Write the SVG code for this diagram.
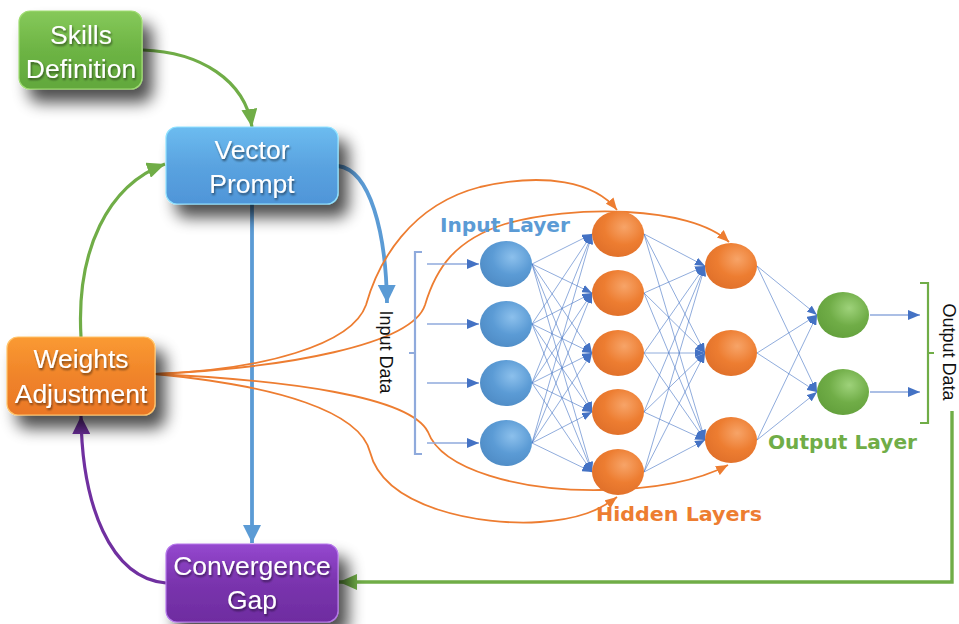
<svg xmlns="http://www.w3.org/2000/svg" width="959" height="624" viewBox="0 0 959 624">
  <defs>
    <style>
      .box-text { font-family: "Liberation Sans", Arial, sans-serif; font-size: 26.5px; fill: #ffffff; text-anchor: middle; }
      .layer-label { font-family: "DejaVu Sans", "Liberation Sans", sans-serif; font-size: 20px; font-weight: bold; }
      .data-label { font-family: "Liberation Sans", Arial, sans-serif; font-size: 18px; fill: #111111; text-anchor: middle; }
      .syn { stroke: #4472c4; stroke-width: 0.7; stroke-opacity: 0.85; fill: none; marker-end: url(#synArrow); }
      .feed { stroke: #ed7d31; stroke-width: 1.8; fill: none; marker-end: url(#orangeArrow); }
      .bracket-in { stroke: #8faadc; stroke-width: 2.2; fill: none; }
      .bracket-out { stroke: #70ad47; stroke-width: 2.2; fill: none; }
      .io-line { stroke: #8faadc; stroke-width: 1.3; fill: none; marker-end: url(#synArrowBig); }
    </style>

    <filter id="boxShadow" x="-30%" y="-30%" width="180%" height="200%">
      <feGaussianBlur in="SourceAlpha" stdDeviation="8"/>
      <feOffset dx="10" dy="13" result="blur"/>
      <feComponentTransfer><feFuncA type="linear" slope="0.7"/></feComponentTransfer>
      <feMerge><feMergeNode/><feMergeNode in="SourceGraphic"/></feMerge>
    </filter>
    <filter id="textShadow" x="-10%" y="-20%" width="120%" height="150%">
      <feGaussianBlur in="SourceAlpha" stdDeviation="1"/>
      <feOffset dx="1" dy="1.5"/>
      <feComponentTransfer><feFuncA type="linear" slope="0.5"/></feComponentTransfer>
      <feMerge><feMergeNode/><feMergeNode in="SourceGraphic"/></feMerge>
    </filter>

    <linearGradient id="gGreen" x1="0" y1="0" x2="0" y2="1">
      <stop offset="0" stop-color="#86c95a"/>
      <stop offset="0.5" stop-color="#6db444"/>
      <stop offset="1" stop-color="#62a83c"/>
    </linearGradient>
    <linearGradient id="gBlue" x1="0" y1="0" x2="0" y2="1">
      <stop offset="0" stop-color="#6cbcf0"/>
      <stop offset="0.5" stop-color="#5aa3e0"/>
      <stop offset="1" stop-color="#4f95d8"/>
    </linearGradient>
    <linearGradient id="gOrange" x1="0" y1="0" x2="0" y2="1">
      <stop offset="0" stop-color="#fa9a32"/>
      <stop offset="0.5" stop-color="#f0842a"/>
      <stop offset="1" stop-color="#ea7726"/>
    </linearGradient>
    <linearGradient id="gPurple" x1="0" y1="0" x2="0" y2="1">
      <stop offset="0" stop-color="#9548cf"/>
      <stop offset="0.5" stop-color="#7a34ae"/>
      <stop offset="1" stop-color="#6e2ca0"/>
    </linearGradient>

    <radialGradient id="sBlue" cx="0.62" cy="0.35" r="0.7">
      <stop offset="0" stop-color="#8cc0ec"/>
      <stop offset="0.55" stop-color="#5b9bd5"/>
      <stop offset="1" stop-color="#4f8cc6"/>
    </radialGradient>
    <radialGradient id="sOrange" cx="0.62" cy="0.35" r="0.7">
      <stop offset="0" stop-color="#f7a468"/>
      <stop offset="0.55" stop-color="#ed7d31"/>
      <stop offset="1" stop-color="#e0702a"/>
    </radialGradient>
    <radialGradient id="sGreen" cx="0.62" cy="0.35" r="0.7">
      <stop offset="0" stop-color="#9ed27a"/>
      <stop offset="0.55" stop-color="#70ad47"/>
      <stop offset="1" stop-color="#63a03c"/>
    </radialGradient>

    <marker id="synArrow" viewBox="0 0 10 8" refX="10" refY="4" markerWidth="10" markerHeight="8" markerUnits="userSpaceOnUse" orient="auto">
      <path d="M0,0 L10,4 L0,8 z" fill="#4472c4"/>
    </marker>
    <marker id="synArrowBig" viewBox="0 0 12 10" refX="12" refY="5" markerWidth="12" markerHeight="10" markerUnits="userSpaceOnUse" orient="auto">
      <path d="M0,0 L12,5 L0,10 z" fill="#4472c4"/>
    </marker>
    <marker id="orangeArrow" viewBox="0 0 12 10" refX="12" refY="5" markerWidth="12" markerHeight="10" markerUnits="userSpaceOnUse" orient="auto">
      <path d="M0,0 L12,5 L0,10 z" fill="#ed7d31"/>
    </marker>
    <marker id="greenArrow" viewBox="0 0 18 16" refX="18" refY="8" markerWidth="18" markerHeight="16" markerUnits="userSpaceOnUse" orient="auto">
      <path d="M0,0 L18,8 L0,16 z" fill="#70ad47"/>
    </marker>
    <marker id="blueArrow" viewBox="0 0 18 18" refX="18" refY="9" markerWidth="18" markerHeight="18" markerUnits="userSpaceOnUse" orient="auto">
      <path d="M0,0 L18,9 L0,18 z" fill="#5b9bd5"/>
    </marker>
    <marker id="purpleArrow" viewBox="0 0 18 18" refX="18" refY="9" markerWidth="18" markerHeight="18" markerUnits="userSpaceOnUse" orient="auto">
      <path d="M0,0 L18,9 L0,18 z" fill="#7030a0"/>
    </marker>
  </defs>

  <rect width="959" height="624" fill="#ffffff"/>

  <!-- connectors -->
  <g id="connectors">
    <!-- process loop -->
    <path d="M143,50 C200,52 245,80 252,127" stroke="#70ad47" stroke-width="3.2" fill="none" marker-end="url(#greenArrow)"/>
    <path d="M81,337 C76,250 108,185 165,164" stroke="#70ad47" stroke-width="3.2" fill="none" marker-end="url(#greenArrow)"/>
    <path d="M166,583 C110,578 82,505 81,416" stroke="#7030a0" stroke-width="3.2" fill="none" marker-end="url(#purpleArrow)"/>
    <path d="M252,204 L252,543" stroke="#5b9bd5" stroke-width="3.8" fill="none" marker-end="url(#blueArrow)"/>
    <path d="M338,166 C370,170 386,232 387,303" stroke="#5b9bd5" stroke-width="3.8" fill="none" marker-end="url(#blueArrow)"/>
    <path d="M952,411 L952,582 L339,582" stroke="#70ad47" stroke-width="3.4" fill="none" marker-end="url(#greenArrow)"/>

    <!-- weight updates fed into the network -->
    <path class="feed" d="M155,374 C262,370 352,345 366,305 C378,262 410,205 480,187 C545,172 595,182 617,210"/>
    <path class="feed" d="M155,374 C285,368 412,345 425,305 C436,268 455,240 505,224 C570,205 690,205 729,242"/>
    <path class="feed" d="M155,374 C285,380 410,396 428,432 C442,470 520,491 600,490 C660,489 700,480 728,465"/>
    <path class="feed" d="M155,374 C280,386 360,412 370,452 C384,508 480,526 540,522 C580,519 600,510 617,497"/>

    <!-- input / output feeds -->
    <path class="io-line" d="M427,264 L479,264"/>
    <path class="io-line" d="M427,324 L479,324"/>
    <path class="io-line" d="M427,383 L479,383"/>
    <path class="io-line" d="M427,443 L479,443"/>
    <path class="io-line" d="M870,315 L920,315"/>
    <path class="io-line" d="M870,392 L920,392"/>

    <!-- input layer to hidden layer 1 -->
    <line class="syn" x1="532" y1="264" x2="592" y2="234"/>
    <line class="syn" x1="532" y1="264" x2="592" y2="293"/>
    <line class="syn" x1="532" y1="264" x2="592" y2="353"/>
    <line class="syn" x1="532" y1="264" x2="592" y2="412"/>
    <line class="syn" x1="532" y1="264" x2="592" y2="472"/>
    <line class="syn" x1="532" y1="324" x2="592" y2="234"/>
    <line class="syn" x1="532" y1="324" x2="592" y2="293"/>
    <line class="syn" x1="532" y1="324" x2="592" y2="353"/>
    <line class="syn" x1="532" y1="324" x2="592" y2="412"/>
    <line class="syn" x1="532" y1="324" x2="592" y2="472"/>
    <line class="syn" x1="532" y1="383" x2="592" y2="234"/>
    <line class="syn" x1="532" y1="383" x2="592" y2="293"/>
    <line class="syn" x1="532" y1="383" x2="592" y2="353"/>
    <line class="syn" x1="532" y1="383" x2="592" y2="412"/>
    <line class="syn" x1="532" y1="383" x2="592" y2="472"/>
    <line class="syn" x1="532" y1="443" x2="592" y2="234"/>
    <line class="syn" x1="532" y1="443" x2="592" y2="293"/>
    <line class="syn" x1="532" y1="443" x2="592" y2="353"/>
    <line class="syn" x1="532" y1="443" x2="592" y2="412"/>
    <line class="syn" x1="532" y1="443" x2="592" y2="472"/>

    <!-- hidden layer 1 to hidden layer 2 -->
    <line class="syn" x1="644" y1="234" x2="705" y2="266"/>
    <line class="syn" x1="644" y1="234" x2="705" y2="353"/>
    <line class="syn" x1="644" y1="234" x2="705" y2="440"/>
    <line class="syn" x1="644" y1="293" x2="705" y2="266"/>
    <line class="syn" x1="644" y1="293" x2="705" y2="353"/>
    <line class="syn" x1="644" y1="293" x2="705" y2="440"/>
    <line class="syn" x1="644" y1="353" x2="705" y2="266"/>
    <line class="syn" x1="644" y1="353" x2="705" y2="353"/>
    <line class="syn" x1="644" y1="353" x2="705" y2="440"/>
    <line class="syn" x1="644" y1="412" x2="705" y2="266"/>
    <line class="syn" x1="644" y1="412" x2="705" y2="353"/>
    <line class="syn" x1="644" y1="412" x2="705" y2="440"/>
    <line class="syn" x1="644" y1="472" x2="705" y2="266"/>
    <line class="syn" x1="644" y1="472" x2="705" y2="353"/>
    <line class="syn" x1="644" y1="472" x2="705" y2="440"/>

    <!-- hidden layer 2 to output layer -->
    <line class="syn" x1="757" y1="266" x2="817" y2="315"/>
    <line class="syn" x1="757" y1="266" x2="817" y2="392"/>
    <line class="syn" x1="757" y1="353" x2="817" y2="315"/>
    <line class="syn" x1="757" y1="353" x2="817" y2="392"/>
    <line class="syn" x1="757" y1="440" x2="817" y2="315"/>
    <line class="syn" x1="757" y1="440" x2="817" y2="392"/>

    <!-- brackets -->
    <path class="bracket-in" d="M422,252 L415,252 L415,454 L422,454 M415,353 L409,353"/>
    <path class="bracket-out" d="M920,283 L928,283 L928,423 L920,423 M928,353 L934,353"/>
  </g>

  <!-- process boxes -->
  <g id="skills-definition" filter="url(#boxShadow)">
    <rect x="19" y="11" width="123" height="78" rx="11" fill="url(#gGreen)" stroke="#9fdc72" stroke-width="1.2"/>
    <g filter="url(#textShadow)">
      <text class="box-text" x="81" y="44">Skills</text>
      <text class="box-text" x="81" y="78">Definition</text>
    </g>
  </g>
  <g id="vector-prompt" filter="url(#boxShadow)">
    <rect x="166" y="127" width="172" height="77" rx="11" fill="url(#gBlue)" stroke="#8fe2ff" stroke-width="1.2"/>
    <g filter="url(#textShadow)">
      <text class="box-text" x="252" y="159">Vector</text>
      <text class="box-text" x="252" y="193">Prompt</text>
    </g>
  </g>
  <g id="weights-adjustment" filter="url(#boxShadow)">
    <rect x="7" y="337" width="148" height="78" rx="11" fill="url(#gOrange)" stroke="#ffc46a" stroke-width="1.2"/>
    <g filter="url(#textShadow)">
      <text class="box-text" x="81" y="368">Weights</text>
      <text class="box-text" x="81" y="403">Adjustment</text>
    </g>
  </g>
  <g id="convergence-gap" filter="url(#boxShadow)">
    <rect x="166" y="544" width="172" height="78" rx="11" fill="url(#gPurple)" stroke="#b577ea" stroke-width="1.2"/>
    <g filter="url(#textShadow)">
      <text class="box-text" x="252" y="575">Convergence</text>
      <text class="box-text" x="252" y="609">Gap</text>
    </g>
  </g>

  <!-- input layer -->
  <g id="input-1"><ellipse cx="506" cy="264" rx="26" ry="23" fill="url(#sBlue)"/></g>
  <g id="input-2"><ellipse cx="506" cy="324" rx="26" ry="23" fill="url(#sBlue)"/></g>
  <g id="input-3"><ellipse cx="506" cy="383" rx="26" ry="23" fill="url(#sBlue)"/></g>
  <g id="input-4"><ellipse cx="506" cy="443" rx="26" ry="23" fill="url(#sBlue)"/></g>

  <!-- hidden layer 1 -->
  <g id="hidden1-1"><ellipse cx="618" cy="234" rx="26" ry="23" fill="url(#sOrange)"/></g>
  <g id="hidden1-2"><ellipse cx="618" cy="293" rx="26" ry="23" fill="url(#sOrange)"/></g>
  <g id="hidden1-3"><ellipse cx="618" cy="353" rx="26" ry="23" fill="url(#sOrange)"/></g>
  <g id="hidden1-4"><ellipse cx="618" cy="412" rx="26" ry="23" fill="url(#sOrange)"/></g>
  <g id="hidden1-5"><ellipse cx="618" cy="472" rx="26" ry="23" fill="url(#sOrange)"/></g>

  <!-- hidden layer 2 -->
  <g id="hidden2-1"><ellipse cx="731" cy="266" rx="26" ry="23" fill="url(#sOrange)"/></g>
  <g id="hidden2-2"><ellipse cx="731" cy="353" rx="26" ry="23" fill="url(#sOrange)"/></g>
  <g id="hidden2-3"><ellipse cx="731" cy="440" rx="26" ry="23" fill="url(#sOrange)"/></g>

  <!-- output layer -->
  <g id="output-1"><ellipse cx="843" cy="315" rx="26" ry="23" fill="url(#sGreen)"/></g>
  <g id="output-2"><ellipse cx="843" cy="392" rx="26" ry="23" fill="url(#sGreen)"/></g>

  <!-- labels -->
  <g id="labels">
    <text class="layer-label" x="440" y="232" fill="#5b9bd5" textLength="130" lengthAdjust="spacingAndGlyphs">Input Layer</text>
    <text class="layer-label" x="768" y="449" fill="#70ad47" textLength="149" lengthAdjust="spacingAndGlyphs">Output Layer</text>
    <text class="layer-label" x="596" y="521" fill="#ed7d31" textLength="166" lengthAdjust="spacingAndGlyphs">Hidden Layers</text>
    <text class="data-label" transform="translate(380,352) rotate(90)">Input Data</text>
    <text class="data-label" transform="translate(943,352) rotate(90)">Output Data</text>
  </g>
</svg>
